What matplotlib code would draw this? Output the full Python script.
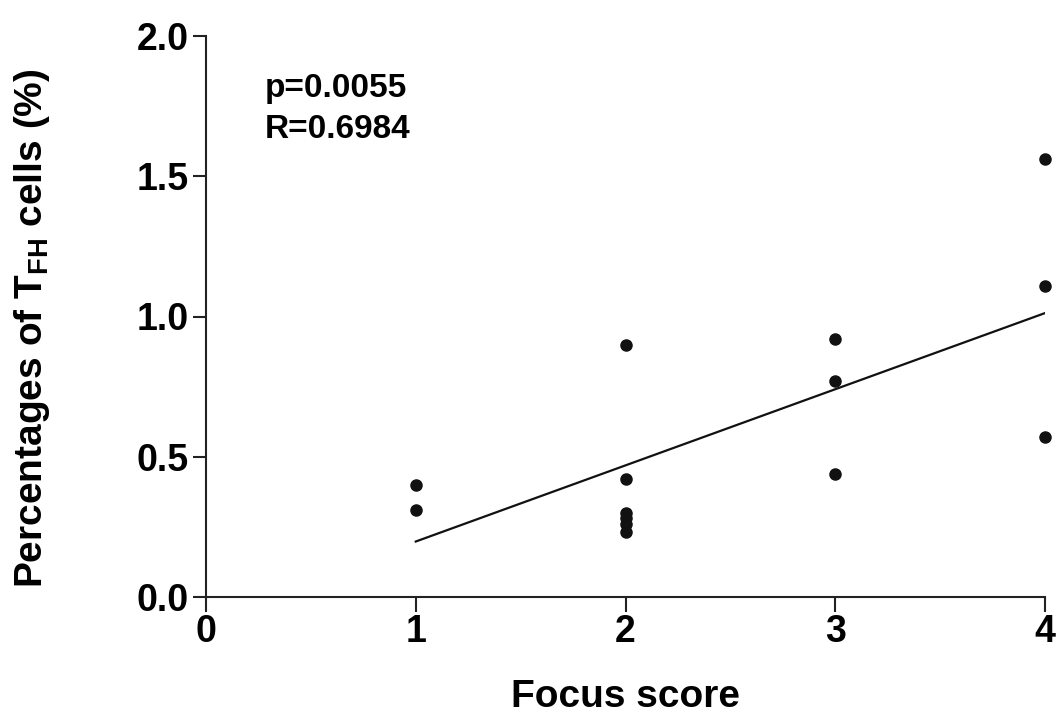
import numpy as np
import matplotlib
matplotlib.use("Agg")
import matplotlib.pyplot as plt

plt.rcParams['font.family'] = ['Liberation Sans', 'DejaVu Sans']
plt.rcParams['font.weight'] = 'bold'
plt.rcParams['mathtext.default'] = 'regular'

# data
focus_score = [1, 1, 2, 2, 2, 2, 2, 2, 3, 3, 3, 4, 4, 4]
tfh_pct = [0.40, 0.31, 0.90, 0.42, 0.30, 0.28, 0.26, 0.23, 0.92, 0.77, 0.44, 1.56, 1.11, 0.57]
p_text = "p=0.0055"
r_text = "R=0.6984"

x = np.array(focus_score, dtype=float)
y = np.array(tfh_pct, dtype=float)
slope, intercept = np.polyfit(x, y, 1)
xf = np.array([x.min(), x.max()])

fig = plt.figure(figsize=(10.64, 7.25), dpi=100)
ax = fig.add_axes([206/1064, 1-597/725, 839/1064, 561/725])

ax.scatter(x, y, s=64, color='#111111', zorder=3, clip_on=False)
ax.plot(xf, slope*xf + intercept, color='#111111', lw=1.6)

ax.set_xlim(0, 4)
ax.set_ylim(0, 2.0)
ax.set_xticks([0, 1, 2, 3, 4])
ax.set_yticks([0.0, 0.5, 1.0, 1.5, 2.0])
ax.set_yticklabels(['0.0', '0.5', '1.0', '1.5', '2.0'])

for s in ['top', 'right']:
    ax.spines[s].set_visible(False)
for s in ['left', 'bottom']:
    ax.spines[s].set_linewidth(1.5)
    ax.spines[s].set_color('#222222')

ax.tick_params(axis='y', length=9.5, width=1.5, labelsize=27, pad=3, colors='#222222')
ax.tick_params(axis='x', length=11, width=1.5, labelsize=27, pad=1, colors='#222222')
for lab in ax.get_xticklabels() + ax.get_yticklabels():
    lab.set_fontweight('bold')
    lab.set_color('black')

ax.set_ylabel("Percentages of T$_{FH}$ cells (%)", fontsize=28, fontweight='bold')
ax.set_xlabel("Focus score", fontsize=28, fontweight='bold')
ax.yaxis.set_label_coords(-0.183, 0.479)
ax.xaxis.set_label_coords(0.5, -0.147)

ax.text(0.0703, 0.891, p_text, transform=ax.transAxes, fontsize=24,
        fontweight='bold', va='baseline', ha='left')
ax.text(0.0703, 0.818, r_text, transform=ax.transAxes, fontsize=24,
        fontweight='bold', va='baseline', ha='left')

fig.savefig("out.png", dpi=100)
